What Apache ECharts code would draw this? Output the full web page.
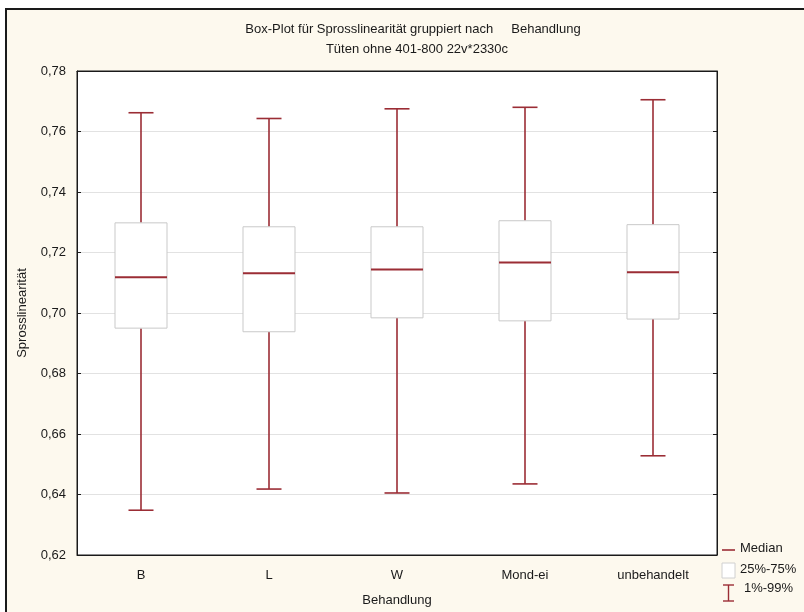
<!DOCTYPE html>
<html>
<head>
<meta charset="utf-8">
<script src="https://cdn.jsdelivr.net/npm/echarts@6/dist/echarts.min.js"></script>
<style>
  html, body { margin:0; padding:0; background:#ffffff; }
  #frame { position:absolute; left:5px; top:8px; width:820px; height:620px; background:#fdf9ee; border-left:2px solid #1a1a1a; border-top:2px solid #1a1a1a; }
  #chart { position:absolute; left:0; top:0; width:804px; height:612px; }
</style>
</head>
<body>
<div id="frame"></div>
<div id="chart"></div>
<script>
const categories = ['B', 'L', 'W', 'Mond-ei', 'unbehandelt'];
const low    = [0.6348, 0.6418, 0.6405, 0.6435, 0.6528];
const q1     = [0.6950, 0.6938, 0.6984, 0.6974, 0.6980];
const median = [0.7118, 0.7131, 0.7144, 0.7167, 0.7135];
const q3     = [0.7298, 0.7285, 0.7285, 0.7305, 0.7292];
const high   = [0.7662, 0.7643, 0.7675, 0.7680, 0.7705];
const yTicks = [0.62, 0.64, 0.66, 0.68, 0.70, 0.72, 0.74, 0.76, 0.78];

const data = categories.map((c, i) => [i, low[i], q1[i], median[i], q3[i], high[i]]);
const redCol = '#9b2d35';
const boxCol = '#c9c9c9';
const font = '"Liberation Sans", Arial, sans-serif';
const fmt = v => v.toFixed(2).replace('.', ',');
const fs = 13;

const chart = echarts.init(document.getElementById('chart'), null, {renderer: 'canvas'});
chart.setOption({
  backgroundColor: 'transparent',
  animation: false,
  textStyle: { fontFamily: font },
  title: [
    { text: 'Box-Plot für Sprosslinearität gruppiert nach     Behandlung', left: 408, top: 18, textAlign: 'center',
      textStyle: { fontFamily: font, fontSize: fs, fontWeight: 'normal', color: '#1a1a1a' } },
    { text: 'Tüten ohne 401-800 22v*2330c', left: 412, top: 38, textAlign: 'center',
      textStyle: { fontFamily: font, fontSize: fs, fontWeight: 'normal', color: '#1a1a1a' } }
  ],
  grid: { left: 77, right: 87, top: 71, bottom: 55, show: true, backgroundColor: '#ffffff', borderColor: '#1a1a1a', borderWidth: 1 },
  xAxis: [
    { type: 'category', data: categories, position: 'bottom',
      name: 'Behandlung', nameLocation: 'middle', nameGap: 39,
      nameTextStyle: { fontFamily: font, fontSize: fs, color: '#1a1a1a' },
      axisLine: { lineStyle: { color: '#1a1a1a' } },
      axisTick: { inside: true, length: 4, alignWithLabel: true, lineStyle: { color: '#1a1a1a' } },
      axisLabel: { fontFamily: font, fontSize: fs, color: '#1a1a1a', margin: 14 },
      splitLine: { show: false } },
    { type: 'category', data: categories, position: 'top',
      axisLine: { lineStyle: { color: '#1a1a1a' } },
      axisTick: { inside: true, length: 4, alignWithLabel: true, lineStyle: { color: '#1a1a1a' } },
      axisLabel: { show: false }, splitLine: { show: false } }
  ],
  yAxis: [
    { type: 'value', min: yTicks[0], max: yTicks[yTicks.length - 1], interval: 0.02, position: 'left',
      name: 'Sprosslinearität', nameLocation: 'middle', nameGap: 48, nameRotate: 90,
      nameTextStyle: { fontFamily: font, fontSize: fs, color: '#1a1a1a' },
      axisLine: { show: true, lineStyle: { color: '#1a1a1a' } },
      axisTick: { show: true, inside: true, length: 4, lineStyle: { color: '#1a1a1a' } },
      axisLabel: { fontFamily: font, fontSize: fs, color: '#1a1a1a', margin: 11, formatter: fmt },
      splitLine: { show: true, lineStyle: { color: '#e2e2e2', width: 1 } } },
    { type: 'value', min: yTicks[0], max: yTicks[yTicks.length - 1], interval: 0.02, position: 'right',
      axisLine: { show: true, lineStyle: { color: '#1a1a1a' } },
      axisTick: { show: true, inside: true, length: 4, lineStyle: { color: '#1a1a1a' } },
      axisLabel: { show: false }, splitLine: { show: false } }
  ],
  series: [{
    type: 'custom',
    xAxisIndex: 0, yAxisIndex: 0,
    data: data,
    renderItem: function (params, api) {
      const x = api.value(0);
      const pLow = api.coord([x, api.value(1)]);
      const pQ1 = api.coord([x, api.value(2)]);
      const pMed = api.coord([x, api.value(3)]);
      const pQ3 = api.coord([x, api.value(4)]);
      const pHigh = api.coord([x, api.value(5)]);
      const cx = pLow[0];
      const bw = 52, cw = 25;
      return {
        type: 'group',
        children: [
          { type: 'line', shape: { x1: cx, y1: pHigh[1], x2: cx, y2: pQ3[1] }, style: { stroke: redCol, lineWidth: 1.6 } },
          { type: 'line', shape: { x1: cx, y1: pQ1[1], x2: cx, y2: pLow[1] }, style: { stroke: redCol, lineWidth: 1.6 } },
          { type: 'line', shape: { x1: cx - cw / 2, y1: pHigh[1], x2: cx + cw / 2, y2: pHigh[1] }, style: { stroke: redCol, lineWidth: 1.6 } },
          { type: 'line', shape: { x1: cx - cw / 2, y1: pLow[1], x2: cx + cw / 2, y2: pLow[1] }, style: { stroke: redCol, lineWidth: 1.6 } },
          { type: 'rect', shape: { x: cx - bw / 2, y: pQ3[1], width: bw, height: pQ1[1] - pQ3[1] }, style: { fill: '#ffffff', stroke: boxCol, lineWidth: 1 } },
          { type: 'line', shape: { x1: cx - bw / 2, y1: pMed[1], x2: cx + bw / 2, y2: pMed[1] }, style: { stroke: redCol, lineWidth: 2 } }
        ]
      };
    }
  }],
  graphic: [
    { type: 'line', shape: { x1: 722, y1: 550, x2: 735, y2: 550 }, style: { stroke: redCol, lineWidth: 1.6 } },
    { type: 'text', left: 740, top: 542, style: { text: 'Median', font: fs + 'px ' + font, fill: '#1a1a1a' } },
    { type: 'rect', shape: { x: 722, y: 563, width: 13, height: 15 }, style: { fill: '#ffffff', stroke: '#d0d0d0', lineWidth: 1 } },
    { type: 'text', left: 740, top: 563, style: { text: '25%-75%', font: fs + 'px ' + font, fill: '#1a1a1a' } },
    { type: 'line', shape: { x1: 728.5, y1: 585, x2: 728.5, y2: 601 }, style: { stroke: redCol, lineWidth: 1.4 } },
    { type: 'line', shape: { x1: 723, y1: 585, x2: 734, y2: 585 }, style: { stroke: redCol, lineWidth: 1.4 } },
    { type: 'line', shape: { x1: 723, y1: 601, x2: 734, y2: 601 }, style: { stroke: redCol, lineWidth: 1.4 } },
    { type: 'text', left: 744, top: 582, style: { text: '1%-99%', font: fs + 'px ' + font, fill: '#1a1a1a' } }
  ]
});
</script>
</body>
</html>
